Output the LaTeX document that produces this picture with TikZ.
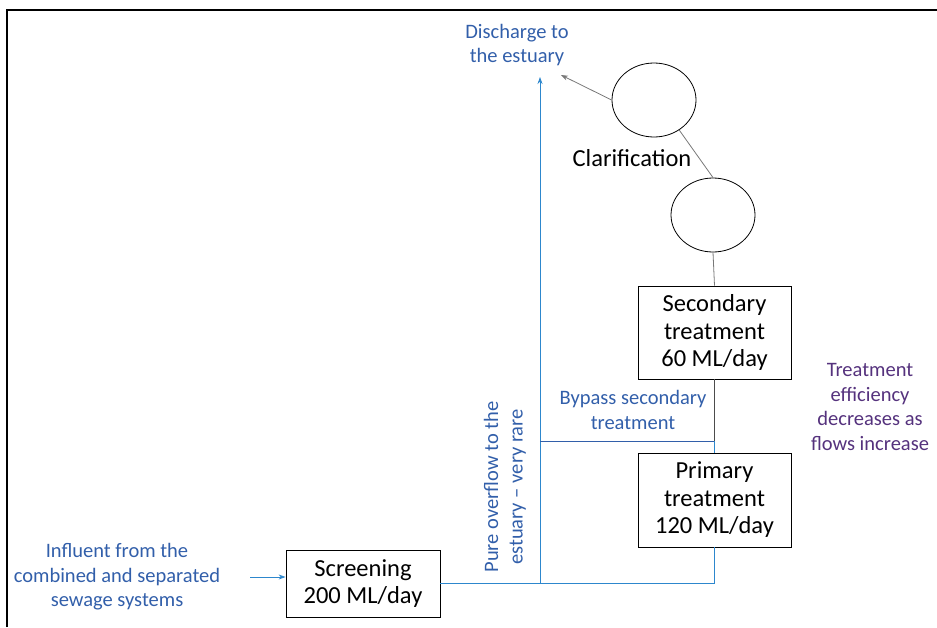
\documentclass[tikz,border=0pt]{standalone}
\usepackage{fontspec}
\setmainfont{Carlito}
\usetikzlibrary{arrows.meta, positioning, shapes.geometric}

\definecolor{flowblue}{RGB}{45,135,205}
\definecolor{textblue}{RGB}{50,95,170}
\definecolor{notepurple}{RGB}{85,50,125}
\definecolor{pipegrey}{RGB}{120,120,120}

\tikzset{
  stage/.style={draw, thick, align=center, inner sep=3pt, font=\fontsize{24.5}{27.5}\selectfont},
  tank/.style={draw, thick, ellipse, inner sep=0pt, minimum width=84pt, minimum height=74pt},
  bluenote/.style={text=textblue, align=center, font=\fontsize{20.5}{24.5}\selectfont},
  flow/.style={flowblue, thick},
  pipe/.style={pipegrey, thick},
}

\begin{document}
\begin{tikzpicture}[x=1pt, y=-1pt, >={Stealth[length=7pt,width=5pt]}]
  \useasboundingbox (0,0) rectangle (937,627);
  % frame
  \draw[very thick] (7,627) -- (7,10) -- (937,10);

  % Stages
  \node[stage, minimum width=154pt, minimum height=67pt] (screen) at (363,583.5) {Screening\\200 ML/day};
  \node[stage, minimum width=153pt, minimum height=94pt] (primary) at (714.5,500) {Primary\\treatment\\120 ML/day};
  \node[stage, minimum width=153pt, minimum height=93pt] (secondary) at (714.5,332.5) {Secondary\\treatment\\60 ML/day};

  % Clarification
  \node[tank] (tankA) at (713,215) {};
  \node[tank] (tankB) at (654,100) {};
  \node[font=\fontsize{24.5}{27}\selectfont] (clar) at (632,158) {Clarification};

  % Labels
  \node[bluenote] (discharge) at (517,45) {Discharge to\\the estuary};
  \node[bluenote] (influent) at (117,577) {Influent from the\\combined and separated\\sewage systems};
  \node[bluenote, rotate=90] (overflow) at (505,487) {Pure overflow to the\\estuary -- very rare};
  \node[bluenote] (bypass) at (633,410) {Bypass secondary\\treatment};
  \node[bluenote, text=notepurple] (note) at (870,407) {Treatment\\efficiency\\decreases as\\flows increase};

  % Junctions
  \coordinate (j1) at (540,583);
  \coordinate (j2) at (714.5,583);
  \coordinate (by1) at (540,441);
  \coordinate (by2) at (714.5,441);
  \coordinate (top) at (540,77);
  \coordinate (dtip) at (561,75);
  \coordinate (inB) at (250,577);

  % Connectors
  \draw[flow, ->] (inB) -- (screen.west |- inB);
  \draw[flow] (screen.east |- j1) -- (j2) -- (primary.south);
  \draw[flow, ->] (j1) -- (top);
  \draw[pipe, textblue] (by1) -- (by2);
  \draw[pipe, black!70] (secondary.south) -- (by2);
  \draw[flow] (by2) -- (primary.north);
  \draw[pipe] (tankA.south) -- (secondary.north);
  \draw[pipe] (tankA.north) -- (tankB.-50);
  \draw[pipe, ->] (tankB.west) -- (dtip);
\end{tikzpicture}
\end{document}
